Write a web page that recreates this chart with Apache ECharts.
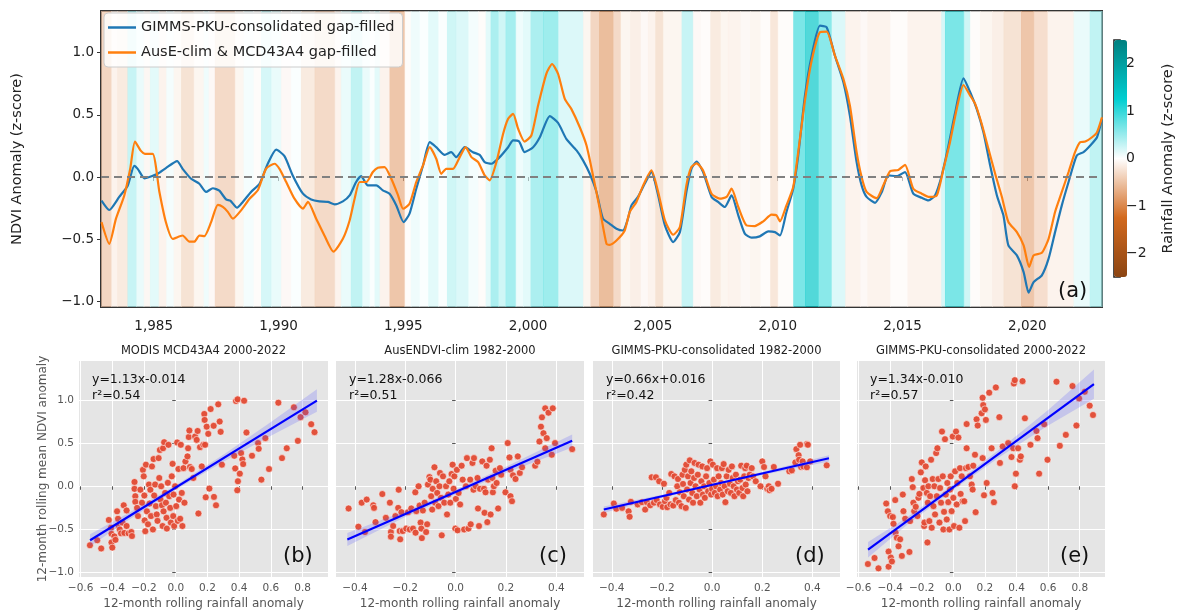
<!DOCTYPE html>
<html>
<head>
<meta charset="utf-8">
<title>NDVI and rainfall anomaly</title>
<script src="https://cdn.jsdelivr.net/npm/echarts@6.0.0/dist/echarts.min.js"></script>
<style>
  html, body { margin: 0; padding: 0; background: #fff; }
  #chart { width: 1177px; height: 611px; }
</style>
</head>
<body>
<div id="chart"></div>
<script>
// (a) 12-month rolling NDVI anomaly, [decimal year, z-score]
const gimmsNdvi = [
  [1982.91,-0.19],[1983.22,-0.265],[1983.62,-0.16],[1983.96,-0.07],[1984.22,0.09],[1984.36,0.066],[1984.63,-0.01],[1984.83,0.0],
  [1985.16,0.026],[1985.49,0.072],[1985.94,0.128],[1986.16,0.066],[1986.5,-0.014],[1986.83,-0.054],[1987.1,-0.12],[1987.37,-0.09],
  [1987.63,-0.11],[1987.9,-0.18],[1988.07,-0.19],[1988.34,-0.247],[1988.57,-0.2],[1988.9,-0.12],[1989.24,-0.054],[1989.57,0.107],
  [1989.91,0.22],[1990.24,0.168],[1990.57,0.013],[1990.98,-0.134],[1991.31,-0.18],[1991.64,-0.196],[1991.98,-0.2],[1992.25,-0.22],
  [1992.58,-0.196],[1992.85,-0.148],[1993.11,-0.04],[1993.31,0.007],[1993.58,-0.067],[1993.92,-0.067],[1994.18,-0.107],[1994.45,-0.134],
  [1994.72,-0.228],[1995.01,-0.362],[1995.25,-0.295],[1995.52,-0.094],[1995.79,0.093],[1996.06,0.28],[1996.32,0.24],[1996.66,0.178],
  [1996.92,0.2],[1997.12,0.16],[1997.46,0.24],[1997.79,0.2],[1998.06,0.178],[1998.26,0.12],[1998.53,0.107],[1998.86,0.16],
  [1999.2,0.24],[1999.4,0.294],[1999.64,0.285],[1999.86,0.2],[2000.2,0.24],[2000.47,0.32],[2000.87,0.489],[2001.2,0.435],
  [2001.53,0.307],[2001.94,0.214],[2002.2,0.134],[2002.47,0.026],[2002.74,-0.12],[2003.0,-0.335],[2003.27,-0.376],[2003.54,-0.416],
  [2003.8,-0.43],[2004.0,-0.335],[2004.14,-0.228],[2004.4,-0.16],[2004.67,-0.054],[2004.94,0.04],[2005.21,-0.148],[2005.48,-0.389],
  [2005.81,-0.523],[2006.08,-0.443],[2006.34,-0.12],[2006.54,0.066],[2006.75,0.125],[2007.01,0.04],[2007.35,-0.16],[2007.61,-0.2],
  [2007.88,-0.241],[2008.15,-0.148],[2008.42,-0.308],[2008.68,-0.455],[2008.95,-0.487],[2009.28,-0.477],[2009.62,-0.437],[2009.89,-0.443],
  [2010.09,-0.47],[2010.35,-0.281],[2010.62,-0.094],[2010.82,0.173],[2011.09,0.655],[2011.36,0.976],[2011.69,1.217],[2011.96,1.204],
  [2012.29,0.976],[2012.63,0.762],[2012.89,0.494],[2013.16,0.12],[2013.36,-0.067],[2013.56,-0.16],[2013.9,-0.207],[2014.17,-0.12],
  [2014.43,0.013],[2014.77,0.007],[2015.1,0.04],[2015.43,-0.134],[2015.77,-0.167],[2016.04,-0.188],[2016.3,-0.148],[2016.57,0.013],
  [2016.84,0.254],[2017.11,0.52],[2017.44,0.794],[2017.71,0.682],[2017.97,0.548],[2018.24,0.36],[2018.51,0.093],[2018.78,-0.148],
  [2019.04,-0.308],[2019.24,-0.55],[2019.58,-0.63],[2019.85,-0.764],[2020.05,-0.93],[2020.25,-0.845],[2020.58,-0.79],[2020.85,-0.656],
  [2021.11,-0.443],[2021.38,-0.228],[2021.65,-0.04],[2021.98,0.173],[2022.25,0.2],[2022.52,0.254],[2022.79,0.32],[2022.99,0.468]
];
const auseNdvi = [
  [1982.91,-0.363],[1983.22,-0.537],[1983.49,-0.335],[1983.82,-0.15],[1984.06,0.066],[1984.25,0.285],[1984.49,0.21],[1984.65,0.187],
  [1984.96,0.187],[1985.23,-0.12],[1985.49,-0.363],[1985.76,-0.497],[1986.16,-0.47],[1986.43,-0.52],[1986.63,-0.52],[1986.83,-0.47],
  [1987.03,-0.475],[1987.3,-0.363],[1987.57,-0.224],[1987.77,-0.24],[1987.97,-0.28],[1988.17,-0.335],[1988.5,-0.268],[1988.84,-0.174],
  [1989.17,-0.107],[1989.5,0.066],[1989.84,0.107],[1990.04,0.066],[1990.31,-0.04],[1990.64,-0.174],[1990.98,-0.254],[1991.18,-0.2],
  [1991.51,-0.335],[1991.84,-0.47],[1992.2,-0.6],[1992.58,-0.497],[1992.85,-0.35],[1993.05,-0.174],[1993.25,-0.04],[1993.52,-0.04],
  [1993.78,0.04],[1993.98,0.074],[1994.25,0.08],[1994.52,-0.014],[1994.79,-0.147],[1994.99,-0.255],[1995.25,-0.215],[1995.52,-0.04],
  [1995.79,0.093],[1996.06,0.24],[1996.32,0.147],[1996.52,0.026],[1996.72,0.066],[1996.99,0.066],[1997.26,0.16],[1997.5,0.24],
  [1997.73,0.16],[1998.0,0.12],[1998.26,0.013],[1998.46,-0.027],[1998.73,0.12],[1999.0,0.348],[1999.2,0.468],[1999.4,0.508],
  [1999.6,0.388],[1999.86,0.285],[2000.13,0.334],[2000.4,0.575],[2000.73,0.83],[2000.96,0.909],[2001.2,0.83],[2001.47,0.628],
  [2001.73,0.548],[2002.07,0.4],[2002.34,0.253],[2002.6,0.013],[2002.87,-0.255],[2003.14,-0.537],[2003.27,-0.545],[2003.54,-0.51],
  [2003.87,-0.43],[2004.07,-0.281],[2004.34,-0.2],[2004.61,-0.067],[2004.94,0.053],[2005.21,-0.12],[2005.48,-0.348],[2005.81,-0.464],
  [2006.08,-0.402],[2006.34,-0.067],[2006.54,0.08],[2006.75,0.11],[2007.01,0.053],[2007.35,-0.134],[2007.68,-0.174],[2007.95,-0.16],
  [2008.15,-0.094],[2008.42,-0.241],[2008.75,-0.389],[2009.08,-0.394],[2009.42,-0.356],[2009.75,-0.303],[2009.95,-0.308],[2010.09,-0.356],
  [2010.35,-0.228],[2010.62,-0.08],[2010.82,0.2],[2011.09,0.615],[2011.36,0.936],[2011.69,1.164],[2011.96,1.169],[2012.29,0.976],
  [2012.63,0.789],[2012.89,0.575],[2013.16,0.2],[2013.36,0.0],[2013.56,-0.12],[2013.96,-0.17],[2014.23,-0.067],[2014.5,0.047],
  [2014.83,0.057],[2015.1,0.098],[2015.43,-0.094],[2015.77,-0.134],[2016.04,-0.16],[2016.37,-0.148],[2016.64,0.066],[2016.9,0.28],
  [2017.17,0.548],[2017.44,0.74],[2017.71,0.655],[2017.91,0.588],[2018.17,0.428],[2018.44,0.227],[2018.71,0.026],[2018.98,-0.16],
  [2019.24,-0.362],[2019.58,-0.443],[2019.85,-0.55],[2020.07,-0.723],[2020.25,-0.63],[2020.58,-0.609],[2020.85,-0.497],[2021.11,-0.281],
  [2021.38,-0.12],[2021.65,0.04],[2021.91,0.2],[2022.12,0.281],[2022.32,0.285],[2022.59,0.32],[2022.79,0.361],[2022.99,0.48]
];

// rainfall anomaly z-score stripes, [start year, value]; each runs to the next start
const rainfallZ = [
  [1982.89,-0.5],[1983.3,-0.15],[1983.55,-0.25],[1983.95,0.4],[1984.3,0.15],[1984.6,-0.1],[1984.85,0.2],[1985.2,-0.15],
  [1985.5,0.08],[1985.8,-0.12],[1986.1,-0.35],[1986.6,-0.12],[1987.0,0.12],[1987.2,-0.08],[1987.45,-0.45],[1988.25,-0.12],
  [1988.6,0.08],[1989.0,-0.04],[1989.3,0.3],[1989.7,0.15],[1990.1,-0.08],[1990.5,0.04],[1990.9,-0.25],[1991.45,-0.45],
  [1992.25,-0.15],[1992.5,0.15],[1992.9,0.45],[1993.35,0.15],[1993.65,0.04],[1993.85,0.2],[1994.05,-0.15],[1994.45,-0.7],
  [1995.05,-0.04],[1995.3,0.12],[1995.65,0.04],[1996.0,0.2],[1996.4,0.04],[1996.75,0.35],[1997.1,0.25],[1997.6,0.08],
  [1998.0,-0.04],[1998.3,0.2],[1998.5,0.6],[1998.8,0.35],[1999.1,0.65],[1999.5,0.12],[1999.8,0.2],[2000.1,0.6],
  [2000.6,0.7],[2001.2,0.25],[2002.2,-0.12],[2002.5,-0.5],[2002.85,-0.8],[2003.4,-0.45],[2003.7,-0.12],[2004.1,-0.2],
  [2004.5,-0.08],[2004.8,-0.15],[2005.1,-0.35],[2005.4,-0.12],[2006.15,0.4],[2006.6,-0.08],[2006.9,-0.04],[2007.3,-0.25],
  [2007.7,-0.12],[2008.0,-0.15],[2008.5,-0.08],[2008.9,-0.12],[2009.3,-0.04],[2009.7,-0.3],[2010.0,-0.04],[2010.62,0.95],
  [2011.1,1.4],[2011.62,0.85],[2012.15,0.25],[2012.7,-0.15],[2013.3,-0.08],[2013.6,-0.15],[2014.5,-0.04],[2015.2,-0.15],
  [2016.55,0.3],[2016.7,0.95],[2017.45,0.35],[2017.7,-0.04],[2018.1,-0.12],[2018.6,-0.2],[2019.05,-0.35],[2019.75,-0.7],
  [2020.25,-0.4],[2020.8,-0.15],[2021.85,0.15],[2022.5,0.45]
];
const rainEnd = 2022.99;

const yearTicks = [1985, 1990, 1995, 2000, 2005, 2010, 2015, 2020];
const ndviTicks = [-1, -0.5, 0, 0.5, 1];
const rainTicks = [-2, -1, 0, 1, 2];
const wideXTicks = [-0.6, -0.4, -0.2, 0, 0.2, 0.4, 0.6, 0.8];
const narrowXTicks = [-0.4, -0.2, 0, 0.2, 0.4];

// scatter panels, [12-month rolling rainfall anomaly, 12-month rolling mean NDVI anomaly]
const modisPts = [
  [-0.541,-0.683],[-0.495,-0.625],[-0.47,-0.72],[-0.422,-0.39],[-0.408,-0.48],[-0.405,-0.55],[-0.405,-0.65],[-0.4,-0.71],
  [-0.387,-0.58],[-0.38,-0.62],[-0.37,-0.29],[-0.364,-0.376],[-0.36,-0.46],[-0.353,-0.5],[-0.345,-0.545],[-0.336,-0.42],
  [-0.328,-0.22],[-0.324,-0.54],[-0.31,-0.28],[-0.31,-0.46],[-0.297,-0.545],[-0.28,-0.53],[-0.276,-0.576],[-0.26,0.05],
  [-0.26,-0.03],[-0.255,-0.115],[-0.255,-0.18],[-0.244,-0.25],[-0.238,-0.345],[-0.223,-0.04],[-0.213,-0.19],[-0.207,0.19],
  [-0.202,0.115],[-0.198,-0.107],[-0.196,-0.395],[-0.192,-0.52],[-0.188,0.25],[-0.182,-0.29],[-0.175,-0.44],[-0.169,0.02],
  [-0.165,-0.2],[-0.16,-0.04],[-0.156,-0.345],[-0.15,0.23],[-0.144,-0.5],[-0.14,0.315],[-0.136,-0.107],[-0.13,0.02],
  [-0.125,-0.23],[-0.12,-0.326],[-0.115,-0.4],[-0.108,0.326],[-0.104,0.096],[-0.1,0.42],[-0.096,-0.154],[-0.092,0.0],
  [-0.087,-0.22],[-0.083,-0.46],[-0.08,0.44],[-0.077,-0.29],[-0.073,0.51],[-0.067,-0.077],[-0.062,-0.19],[-0.058,-0.365],
  [-0.056,-0.49],[-0.05,0.04],[-0.046,0.48],[-0.041,-0.115],[-0.035,-0.25],[-0.031,-0.42],[-0.025,0.115],[-0.02,0.26],
  [-0.016,-0.345],[-0.014,-0.096],[-0.01,-0.46],[-0.004,0.0],[0.003,-0.23],[0.009,0.507],[0.013,-0.4],[0.017,0.2],
  [0.021,-0.154],[0.028,-0.376],[0.032,0.48],[0.038,-0.077],[0.042,-0.46],[0.049,0.21],[0.055,-0.19],[0.061,0.288],
  [0.074,0.346],[0.078,0.44],[0.082,0.57],[0.086,0.645],[0.09,0.223],[0.101,0.2],[0.111,0.096],[0.122,0.576],
  [0.132,0.537],[0.138,0.64],[0.143,-0.315],[0.153,0.453],[0.164,0.23],[0.174,0.48],[0.18,0.837],[0.182,0.768],
  [0.185,0.48],[0.189,-0.127],[0.195,0.69],[0.205,0.607],[0.212,-0.027],[0.22,0.894],[0.239,0.7],[0.241,-0.123],
  [0.254,-0.22],[0.268,0.948],[0.277,0.749],[0.283,0.63],[0.291,0.25],[0.369,0.353],[0.375,0.207],[0.38,0.987],
  [0.39,1.006],[0.388,-0.046],[0.392,0.058],[0.404,0.146],[0.412,0.384],[0.42,0.31],[0.425,0.257],[0.431,0.99],
  [0.446,0.622],[0.481,0.353],[0.519,0.5],[0.523,0.434],[0.54,0.077],[0.565,0.557],[0.588,0.2],[0.647,0.967],
  [0.67,0.326],[0.7,0.44],[0.745,0.914],[0.77,0.526],[0.787,0.8],[0.818,0.856],[0.854,0.718],[0.875,0.626]
];
const ausClimPts = [
  [-0.425,-0.257],[-0.386,-0.468],[-0.373,-0.19],[-0.36,-0.53],[-0.353,-0.154],[-0.327,-0.22],[-0.324,-0.25],[-0.318,-0.415],
  [-0.291,-0.09],[-0.277,-0.365],[-0.261,-0.19],[-0.257,-0.53],[-0.257,-0.583],[-0.248,-0.46],[-0.239,-0.345],[-0.228,-0.25],
  [-0.226,-0.04],[-0.222,-0.518],[-0.22,-0.614],[-0.215,-0.3],[-0.21,-0.518],[-0.196,-0.49],[-0.189,-0.3],[-0.182,-0.5],
  [-0.176,-0.257],[-0.169,-0.49],[-0.16,-0.07],[-0.159,-0.537],[-0.156,-0.288],[-0.147,0.0],[-0.143,-0.223],[-0.139,-0.42],
  [-0.136,-0.49],[-0.134,-0.6],[-0.13,-0.28],[-0.123,-0.19],[-0.117,-0.53],[-0.113,-0.44],[-0.11,0.02],[-0.104,0.107],
  [-0.1,0.077],[-0.097,-0.115],[-0.093,-0.27],[-0.091,-0.03],[-0.084,0.22],[-0.081,-0.19],[-0.077,0.058],[-0.073,-0.077],
  [-0.068,-0.23],[-0.064,0.0],[-0.062,0.154],[-0.058,-0.134],[-0.055,-0.568],[-0.05,0.115],[-0.045,-0.19],[-0.038,0.0],
  [-0.034,-0.326],[-0.029,-0.096],[-0.025,0.058],[-0.021,-0.19],[-0.016,0.142],[-0.012,0.25],[-0.008,-0.03],[-0.005,0.115],
  [-0.001,-0.49],[0.001,-0.146],[0.005,0.19],[0.008,-0.51],[0.012,-0.077],[0.018,-0.21],[0.024,0.238],[0.028,0.077],
  [0.034,-0.5],[0.041,0.0],[0.045,0.326],[0.051,-0.49],[0.058,0.077],[0.06,-0.44],[0.067,0.27],[0.071,-0.04],
  [0.073,0.326],[0.08,0.0],[0.087,0.096],[0.089,-0.257],[0.093,-0.46],[0.097,-0.03],[0.106,0.288],[0.113,-0.03],
  [0.115,-0.307],[0.119,-0.07],[0.123,0.238],[0.126,-0.415],[0.129,0.077],[0.136,0.307],[0.139,-0.326],[0.143,0.44],
  [0.146,0.096],[0.148,-0.07],[0.152,0.0],[0.159,0.18],[0.163,0.038],[0.169,-0.257],[0.176,0.21],[0.181,0.134],
  [0.198,-0.07],[0.207,0.5],[0.214,0.334],[0.218,0.19],[0.218,-0.115],[0.224,-0.173],[0.228,0.127],[0.238,0.084],
  [0.247,0.346],[0.255,0.154],[0.264,0.22],[0.316,0.238],[0.325,0.284],[0.333,0.518],[0.339,0.69],[0.343,0.798],
  [0.349,0.614],[0.356,0.902],[0.356,0.44],[0.362,0.557],[0.369,0.852],[0.382,0.365],[0.386,0.902],[0.395,0.5],
  [0.463,0.43]
];
const gimmsEarlyPts = [
  [-0.432,-0.326],[-0.392,-0.2],[-0.382,-0.26],[-0.359,-0.25],[-0.333,-0.29],[-0.329,-0.353],[-0.324,-0.18],[-0.297,-0.21],
  [-0.28,-0.184],[-0.267,-0.27],[-0.26,-0.184],[-0.247,-0.22],[-0.241,0.104],[-0.232,-0.19],[-0.224,0.104],[-0.221,-0.16],
  [-0.211,0.058],[-0.208,-0.21],[-0.197,-0.238],[-0.192,0.03],[-0.188,-0.173],[-0.182,-0.134],[-0.179,-0.242],[-0.171,-0.077],
  [-0.166,-0.21],[-0.163,0.142],[-0.155,-0.223],[-0.15,0.115],[-0.145,-0.16],[-0.139,0.0],[-0.136,0.084],[-0.132,-0.19],
  [-0.129,-0.07],[-0.122,-0.23],[-0.118,0.134],[-0.116,0.027],[-0.113,-0.115],[-0.109,0.19],[-0.105,-0.25],[-0.103,0.25],
  [-0.1,-0.038],[-0.096,0.115],[-0.092,-0.154],[-0.089,0.3],[-0.086,0.038],[-0.083,0.173],[-0.079,-0.077],[-0.076,-0.19],
  [-0.072,0.096],[-0.07,0.27],[-0.066,0.0],[-0.061,-0.115],[-0.057,0.134],[-0.054,0.25],[-0.05,-0.038],[-0.047,-0.19],
  [-0.043,0.058],[-0.039,0.23],[-0.037,-0.096],[-0.032,0.0],[-0.029,-0.134],[-0.024,0.115],[-0.02,0.21],[-0.016,-0.058],
  [-0.011,0.038],[-0.007,0.288],[-0.004,-0.096],[0.0,-0.03],[0.003,0.25],[0.007,0.077],[0.011,-0.077],[0.016,0.0],
  [0.02,0.21],[0.022,-0.115],[0.026,0.115],[0.032,-0.038],[0.036,0.038],[0.039,0.21],[0.042,-0.096],[0.046,0.257],
  [0.05,0.0],[0.053,-0.184],[0.058,0.115],[0.062,-0.058],[0.066,0.19],[0.071,0.03],[0.075,-0.077],[0.079,0.23],
  [0.082,0.096],[0.086,0.0],[0.089,-0.115],[0.095,0.134],[0.099,-0.038],[0.103,0.058],[0.108,-0.077],[0.112,0.077],
  [0.116,0.238],[0.121,-0.02],[0.124,-0.115],[0.128,0.115],[0.132,0.21],[0.134,0.02],[0.138,0.238],[0.141,-0.058],
  [0.145,0.096],[0.15,0.134],[0.158,0.21],[0.163,0.115],[0.174,0.058],[0.193,0.0],[0.2,0.288],[0.207,0.223],
  [0.213,0.115],[0.22,-0.03],[0.226,0.0],[0.229,-0.046],[0.237,-0.03],[0.246,0.223],[0.263,0.03],[0.308,0.173],
  [0.318,0.184],[0.332,0.276],[0.336,0.43],[0.345,0.36],[0.347,0.307],[0.351,0.48],[0.355,0.223],[0.361,0.288],
  [0.364,0.23],[0.378,0.49],[0.378,0.22],[0.382,0.48],[0.391,0.288],[0.457,0.242]
];
const gimmsLatePts = [
  [-0.541,-0.9],[-0.499,-0.83],[-0.474,-0.95],[-0.425,-0.2],[-0.415,-0.29],[-0.41,-0.756],[-0.41,-0.93],[-0.4,-0.345],
  [-0.396,-0.825],[-0.389,-0.87],[-0.383,-0.357],[-0.379,-0.434],[-0.368,-0.16],[-0.366,-0.537],[-0.358,-0.595],[-0.347,-0.695],
  [-0.337,-0.614],[-0.326,-0.806],[-0.32,-0.096],[-0.316,-0.288],[-0.305,-0.376],[-0.278,-0.76],[-0.274,-0.403],[-0.263,0.084],
  [-0.257,-0.01],[-0.253,-0.19],[-0.248,-0.288],[-0.238,-0.238],[-0.227,-0.345],[-0.221,-0.134],[-0.215,-0.088],[-0.206,0.161],
  [-0.2,0.276],[-0.19,-0.02],[-0.185,-0.46],[-0.183,-0.42],[-0.179,0.07],[-0.175,0.23],[-0.168,-0.077],[-0.164,-0.65],
  [-0.162,-0.19],[-0.158,0.0],[-0.152,-0.403],[-0.147,-0.115],[-0.141,0.307],[-0.137,-0.48],[-0.131,0.084],[-0.126,-0.23],
  [-0.12,0.0],[-0.116,-0.326],[-0.109,0.384],[-0.105,-0.115],[-0.101,0.44],[-0.095,0.084],[-0.088,-0.42],[-0.084,-0.02],
  [-0.078,-0.19],[-0.072,0.633],[-0.067,0.115],[-0.063,-0.5],[-0.059,-0.296],[-0.053,0.545],[-0.048,-0.096],[-0.042,-0.384],
  [-0.038,0.038],[-0.032,-0.184],[-0.025,-0.5],[-0.021,-0.038],[-0.017,0.115],[-0.011,-0.288],[-0.004,0.576],[0.0,-0.134],
  [0.004,-0.46],[0.011,0.173],[0.017,0.633],[0.021,-0.21],[0.025,0.038],[0.032,0.564],[0.038,-0.48],[0.042,0.21],
  [0.046,-0.088],[0.053,0.115],[0.059,-0.173],[0.069,-0.173],[0.074,-0.403],[0.08,0.21],[0.084,0.44],[0.084,0.72],
  [0.095,0.223],[0.105,0.115],[0.116,0.02],[0.122,-0.038],[0.126,0.238],[0.137,0.365],[0.141,-0.3],[0.147,0.775],
  [0.154,0.703],[0.179,0.845],[0.185,1.025],[0.185,0.326],[0.189,0.94],[0.194,-0.104],[0.2,0.89],[0.211,0.038],
  [0.206,0.768],[0.227,1.083],[0.242,0.44],[0.248,-0.077],[0.257,-0.184],[0.269,1.144],[0.291,0.8],[0.295,0.27],
  [0.312,0.46],[0.347,0.5],[0.368,0.338],[0.379,0.44],[0.383,1.19],[0.389,0.0],[0.389,1.228],[0.396,0.146],
  [0.41,0.44],[0.421,0.307],[0.427,0.346],[0.438,1.217],[0.453,0.787],[0.488,0.48],[0.526,0.64],[0.533,0.557],
  [0.543,0.146],[0.575,0.718],[0.596,0.307],[0.653,1.21],[0.674,0.468],[0.712,0.595],[0.754,1.16],[0.779,0.703],
  [0.796,1.017],[0.832,1.094],[0.863,0.933],[0.884,0.825]
];

// regression line end points and confidence band [x, lower, upper]
const modisFit = [[-0.54,-0.624],[0.89,0.992]];
const ausClimFit = [[-0.43,-0.616],[0.463,0.527]];
const gimmsEarlyFit = [[-0.432,-0.269],[0.466,0.324]];
const gimmsLateFit = [[-0.54,-0.734],[0.89,1.183]];
const modisCi = [[-0.54,-0.694,-0.554],[-0.3,-0.393,-0.313],[0.0,-0.039,0.011],[0.3,0.285,0.365],[0.6,0.584,0.744],[0.89,0.862,1.122]];
const ausClimCi = [[-0.43,-0.69,-0.54],[-0.2,-0.357,-0.287],[0.0,-0.091,-0.041],[0.2,0.155,0.225],[0.463,0.45,0.6]];
const gimmsEarlyCi = [[-0.432,-0.305,-0.233],[-0.2,-0.134,-0.098],[0.0,0.004,0.028],[0.2,0.13,0.166],[0.466,0.288,0.36]];
const gimmsLateCi = [[-0.54,-0.824,-0.644],[-0.3,-0.457,-0.367],[0.0,-0.04,0.02],[0.3,0.347,0.437],[0.6,0.704,0.884],[0.89,1.013,1.353]];

const nameG = 'GIMMS-PKU-consolidated gap-filled';
const nameA = 'AusE-clim & MCD43A4 gap-filled';
const FONT = 'DejaVu Sans';
const minus = v => String(v).replace('-', '\u2212');
const fmt1 = v => minus((Math.abs(v) < 1e-9 ? 0 : v).toFixed(1));

const topMin = -1.045, topMax = 1.335;

const panels = [
  { title: 'MODIS MCD43A4 2000-2022', eq: 'y=1.13x-0.014', r2: 'r\u00b2=0.54', tag: '(b)',
    pts: modisPts, fit: modisFit, ci: modisCi, xMin: -0.61, xMax: 0.96, xTicks: wideXTicks, left: 79, width: 249 },
  { title: 'AusENDVI-clim 1982-2000', eq: 'y=1.28x-0.066', r2: 'r\u00b2=0.51', tag: '(c)',
    pts: ausClimPts, fit: ausClimFit, ci: ausClimCi, xMin: -0.475, xMax: 0.51, xTicks: narrowXTicks, left: 336, width: 248 },
  { title: 'GIMMS-PKU-consolidated 1982-2000', eq: 'y=0.66x+0.016', r2: 'r\u00b2=0.42', tag: '(d)',
    pts: gimmsEarlyPts, fit: gimmsEarlyFit, ci: gimmsEarlyCi, xMin: -0.475, xMax: 0.51, xTicks: narrowXTicks, left: 593, width: 247 },
  { title: 'GIMMS-PKU-consolidated 2000-2022', eq: 'y=1.34x-0.010', r2: 'r\u00b2=0.57', tag: '(e)',
    pts: gimmsLatePts, fit: gimmsLateFit, ci: gimmsLateCi, xMin: -0.61, xMax: 0.96, xTicks: wideXTicks, left: 857, width: 248 }
];
const scTop = 361, scHeight = 217;

// stripes as [start, end, value]
const stripes = rainfallZ.map((r, i) => [r[0], i + 1 < rainfallZ.length ? rainfallZ[i + 1][0] : rainEnd, r[1]]);

const grid = [
  { left: 101, top: 11, width: 1001, height: 296, show: true, borderColor: '#333', borderWidth: 2, backgroundColor: 'transparent' },
  { left: 1114, top: 40, width: 13, height: 237, show: true, borderColor: '#222', borderWidth: 1.6, backgroundColor: 'transparent' }
];
const xAxis = [
  { gridIndex: 0, type: 'value', min: 1982.89, max: rainEnd,
    axisLine: { show: false }, splitLine: { show: false },
    axisTick: { customValues: yearTicks, length: 4, lineStyle: { color: '#333' } },
    axisLabel: { customValues: yearTicks, fontSize: 13.5, color: '#222', margin: 12, fontFamily: FONT } },
  { gridIndex: 1, type: 'value', min: 0, max: 1, show: false }
];
const yAxis = [
  { gridIndex: 0, type: 'value', min: topMin, max: topMax,
    name: 'NDVI Anomaly (z-score)', nameLocation: 'middle', nameRotate: 90, nameGap: 76,
    nameTextStyle: { fontSize: 14.5, color: '#222', fontFamily: FONT },
    axisLine: { show: false }, splitLine: { show: false },
    axisTick: { customValues: ndviTicks, length: 4, lineStyle: { color: '#333' } },
    axisLabel: { customValues: ndviTicks, formatter: fmt1, fontSize: 13.5, color: '#222', margin: 7, fontFamily: FONT } },
  { gridIndex: 1, type: 'value', min: -2.5, max: 2.5, position: 'right',
    name: 'Rainfall Anomaly (z-score)', nameLocation: 'middle', nameRotate: 90, nameGap: 41,
    nameTextStyle: { fontSize: 14.5, color: '#222', fontFamily: FONT },
    axisLine: { show: false }, splitLine: { show: false },
    axisTick: { customValues: rainTicks, length: 4, lineStyle: { color: '#222' } },
    axisLabel: { customValues: rainTicks, formatter: v => minus(v), fontSize: 14, color: '#222', margin: 6, fontFamily: FONT } }
];

const series = [
  {
    type: 'custom', name: 'rain', xAxisIndex: 0, yAxisIndex: 0, silent: true, z: 1,
    encode: { x: [0, 1], y: 2 },
    data: stripes,
    renderItem: (params, api) => {
      const a = api.coord([api.value(0), topMax]);
      const b = api.coord([api.value(1), topMin]);
      return { type: 'rect', shape: { x: a[0], y: a[1], width: b[0] - a[0] + 0.6, height: b[1] - a[1] },
        style: { fill: api.visual('color'), opacity: 0.68 } };
    }
  },
  {
    type: 'line', name: nameG, xAxisIndex: 0, yAxisIndex: 0, data: gimmsNdvi, smooth: 0.2,
    symbol: 'none', z: 3, lineStyle: { color: '#1f77b4', width: 2.2 }, itemStyle: { color: '#1f77b4' },
    markLine: { silent: true, symbol: 'none', label: { show: false },
      lineStyle: { color: '#808080', type: [8, 5], width: 2 }, data: [{ yAxis: 0 }] }
  },
  {
    type: 'line', name: nameA, xAxisIndex: 0, yAxisIndex: 0, data: auseNdvi, smooth: 0.2,
    symbol: 'none', z: 4, lineStyle: { color: '#ff7f0e', width: 2.2 }, itemStyle: { color: '#ff7f0e' }
  }
];

const graphic = [
  { type: 'text', left: 1058, top: 281, z: 10, style: { text: '(a)', font: '21px "DejaVu Sans"', fill: '#111' } }
];

panels.forEach((p, i) => {
  const gi = grid.length;
  grid.push({ left: p.left, top: scTop, width: p.width, height: scHeight, show: true,
    backgroundColor: '#e5e5e5', borderWidth: 0 });
  xAxis.push({ gridIndex: gi, type: 'value', min: p.xMin, max: p.xMax,
    name: '12-month rolling rainfall anomaly', nameLocation: 'middle', nameGap: 21,
    nameTextStyle: { fontSize: 12, color: '#555', fontFamily: FONT },
    axisLine: { show: false },
    axisTick: { customValues: p.xTicks, length: 3.5, lineStyle: { color: '#555' } },
    axisLabel: { customValues: p.xTicks, formatter: fmt1, fontSize: 10.5, color: '#555', margin: 6, fontFamily: FONT },
    splitLine: { show: true, lineStyle: { color: '#fff', width: 1 } } });
  yAxis.push({ gridIndex: gi, type: 'value', min: -1.05, max: 1.45,
    name: i === 0 ? '12-month rolling mean NDVI anomaly' : '', nameLocation: 'middle', nameRotate: 90,
    nameGap: 30, nameMoveOverlap: false,
    nameTextStyle: { fontSize: 12, color: '#555', fontFamily: FONT },
    axisLine: { show: false },
    axisTick: { customValues: ndviTicks, length: 3.5, lineStyle: { color: '#555' } },
    axisLabel: { show: i === 0, customValues: ndviTicks, formatter: fmt1, fontSize: 10.5, color: '#555', margin: 5, fontFamily: FONT },
    splitLine: { show: true, lineStyle: { color: '#fff', width: 1 } } });
  const ax = xAxis.length - 1, ay = yAxis.length - 1;
  series.push({ type: 'scatter', xAxisIndex: ax, yAxisIndex: ay, data: p.pts, symbolSize: 7, z: 2,
    itemStyle: { color: '#e24a33', borderColor: '#ffffff', borderWidth: 0.6, opacity: 0.95 } });
  series.push({ type: 'custom', xAxisIndex: ax, yAxisIndex: ay, data: p.ci, silent: true, z: 3,
    encode: { x: 0, y: [1, 2] },
    renderItem: (params, api) => {
      if (params.dataIndex !== 0) return null;
      const upper = p.ci.map(r => api.coord([r[0], r[2]]));
      const lower = p.ci.map(r => api.coord([r[0], r[1]])).reverse();
      return { type: 'polygon', shape: { points: upper.concat(lower) },
        style: { fill: 'rgba(70,70,255,0.2)' } };
    } });
  series.push({ type: 'line', xAxisIndex: ax, yAxisIndex: ay, data: p.fit, symbol: 'none', z: 4,
    lineStyle: { color: '#0000ff', width: 2.2 } });
  const cx = p.left + p.width / 2;
  graphic.push({ type: 'text', x: cx, y: 351, style: { text: p.title, font: '11.5px "DejaVu Sans"', fill: '#222',
    textAlign: 'center', textVerticalAlign: 'middle' } });
  graphic.push({ type: 'text', x: p.left + 13, y: 372, z: 10, style: { text: p.eq + '\n' + p.r2,
    font: '12.5px "DejaVu Sans"', fill: '#111', lineHeight: 16 } });
  graphic.push({ type: 'text', x: p.left + p.width - 45, y: 546, z: 10, style: { text: p.tag,
    font: '21px "DejaVu Sans"', fill: '#111' } });
});

const chart = echarts.init(document.getElementById('chart'), null, { renderer: 'canvas' });
chart.setOption({
  animation: false,
  backgroundColor: '#ffffff',
  textStyle: { fontFamily: FONT },
  grid, xAxis, yAxis, series, graphic,
  legend: {
    data: [nameG, nameA], left: 104, top: 13, orient: 'vertical', icon: 'rect',
    itemWidth: 28, itemHeight: 2.5, itemGap: 10,
    textStyle: { fontSize: 14.5, color: '#222', fontFamily: FONT },
    backgroundColor: 'rgba(255,255,255,0.82)', borderColor: '#cccccc', borderWidth: 1, borderRadius: 4,
    padding: [7, 8, 7, 4]
  },
  visualMap: {
    type: 'continuous', min: -2.5, max: 2.5, seriesIndex: 0, dimension: 2,
    left: 1114, top: 40, itemWidth: 13, itemHeight: 237, padding: 0,
    calculable: false, hoverLink: false, text: null,
    inRange: { color: ['#8b4513', '#d2691e', '#ffffff', '#00ced1', '#008080'] }
  }
});
</script>
</body>
</html>
